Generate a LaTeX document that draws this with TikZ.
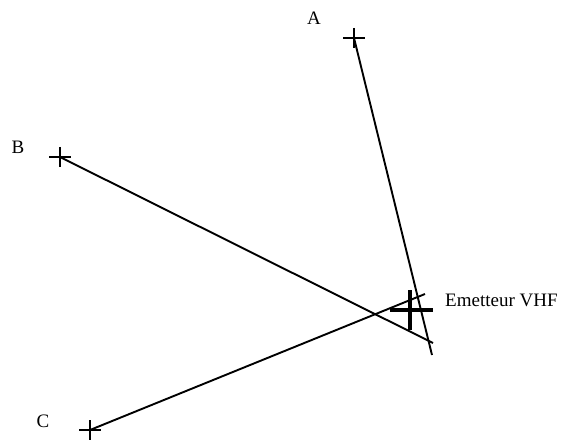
\documentclass[tikz,border=0pt]{standalone}
\usepackage{fontspec}
\setmainfont{Liberation Serif}
\begin{document}
\begin{tikzpicture}[
  x=1pt, y=-1pt,
  font=\fontsize{19}{22}\selectfont,
  ray/.style={draw=black, line width=1.9pt},
  crossmark/.style={draw=black, line width=2.5pt},
  emitter/.style={draw=black, line width=4.2pt},
  tag/.style={inner sep=0pt}
]
\useasboundingbox (0,0) rectangle (565,441);

% stations
\coordinate (A) at (354,38);
\coordinate (B) at (60,157);
\coordinate (C) at (90,430);
\coordinate (tx) at (410,310);

\node[tag] (labelA) at (314,18) {A};
\node[tag] (labelB) at (18,147) {B};
\node[tag] (labelC) at (43,421) {C};
\node[tag, anchor=west] (labeltx) at (445,300) {Emetteur VHF};

% bearings
\coordinate (endA) at (432,355);
\coordinate (endB) at (433,343);
\coordinate (endC) at (425,294);
\draw[ray] (A) -- (endA);
\draw[ray] (B) -- (endB);
\draw[ray] (C) -- (endC);

% crosses
\foreach \p in {A,B,C}
  \draw[crossmark] (\p) +(-11,0) -- +(11,0) (\p) +(0,-10) -- +(0,10);
\draw[emitter] (tx) +(-20,0) -- +(23,0) (tx) +(0,-20) -- +(0,20);
\end{tikzpicture}
\end{document}
